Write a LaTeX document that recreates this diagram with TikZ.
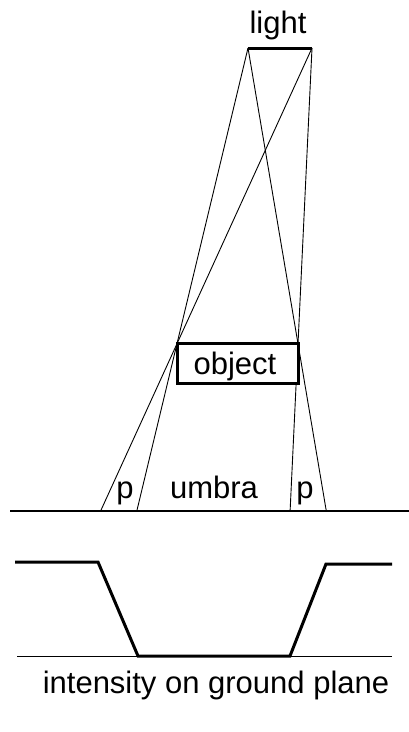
\documentclass[tikz,border=0pt]{standalone}
\usepackage{fontspec}
\setmainfont{Liberation Sans}
\begin{document}
\begin{tikzpicture}[x=1pt,y=-1pt,
  ray/.style={line width=0.9pt},
  thick2/.style={line width=3pt},
  lbl/.style={anchor=base,inner sep=0pt,font=\fontsize{31}{35}\selectfont}]
\useasboundingbox (0,0) rectangle (409,732);
% light
\coordinate (L1) at (248,48);
\coordinate (L2) at (312,48);
\draw[thick2] (L1) -- (L2);
\node[lbl] (light) at (278,33) {light};
% object corners
\coordinate (OA) at (177,343);
\coordinate (OB) at (298,343);
\coordinate (OC) at (298,383);
\coordinate (OD) at (177,383);
% ground points
\coordinate (G1) at (100.6,511);
\coordinate (G2) at (136.8,511);
\coordinate (G3) at (290.1,511);
\coordinate (G4) at (326.3,511);
\draw[ray] (L2) -- (G1);
\draw[ray] (L1) -- (G2);
\draw[ray] (L2) -- (G3);
\draw[ray] (L1) -- (G4);
\draw[thick2,fill=white] (OA) -- (OB) -- (OC) -- (OD) -- cycle;
\node[lbl] (obj) at (235,374) {object};
% ground
\coordinate (GL) at (10,511);
\coordinate (GR) at (409,511);
\draw[line width=2pt] (GL) -- (GR);
\node[lbl] (p1) at (125,498) {p};
\node[lbl] (umb) at (214,498) {umbra};
\node[lbl] (p2) at (305,498) {p};
% intensity
\coordinate (B1) at (17,656);
\coordinate (B2) at (392,656);
\draw[line width=0.8pt] (B1) -- (B2);
\coordinate (I1) at (15,562);
\coordinate (I2) at (98,562);
\coordinate (I3) at (138,656);
\coordinate (I4) at (290,656);
\coordinate (I5) at (326,564);
\coordinate (I6) at (392,564);
\draw[thick2,line join=miter] (I1) -- (I2) -- (I3) -- (I4) -- (I5) -- (I6);
\node[lbl] (int) at (216,693) {intensity on ground plane};
\end{tikzpicture}
\end{document}
